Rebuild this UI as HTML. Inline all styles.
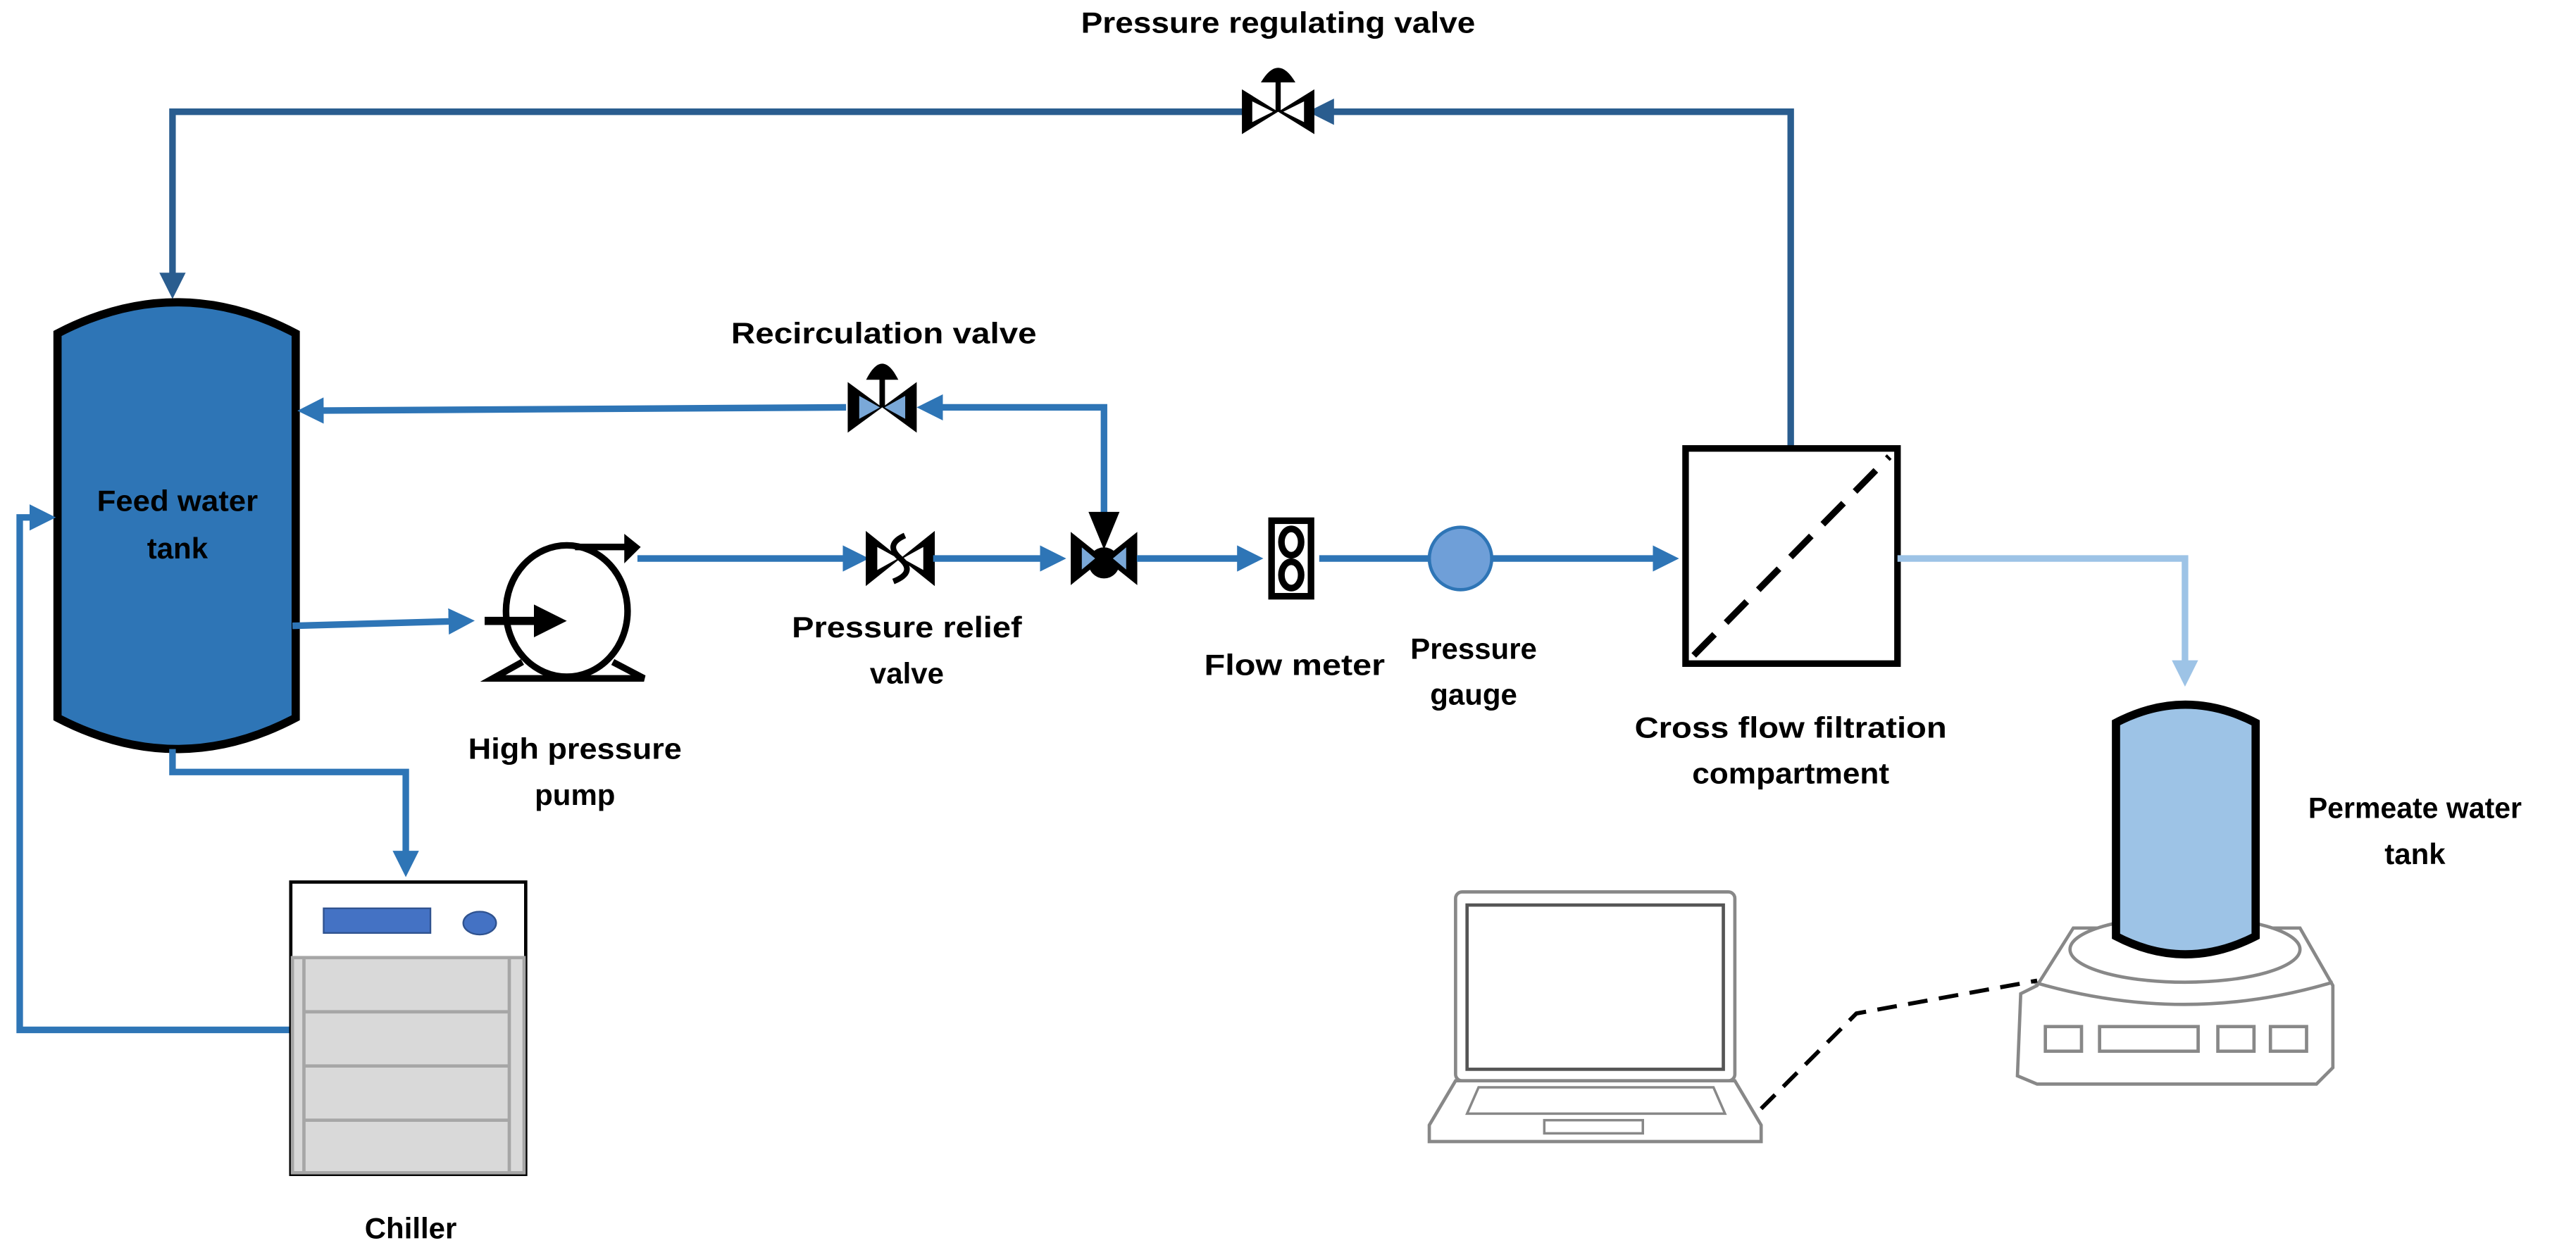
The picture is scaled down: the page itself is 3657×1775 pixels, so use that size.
<!DOCTYPE html>
<html><head><meta charset="utf-8"><style>html,body{margin:0;padding:0;background:#fff}svg{display:block}</style></head>
<body>
<svg width="3657" height="1775" viewBox="0 0 1568 761" xmlns="http://www.w3.org/2000/svg">
<defs>
<marker id="ad" markerWidth="4" markerHeight="4" refX="3" refY="2" orient="auto" markerUnits="strokeWidth"><path d="M0,0 L4,2 L0,4Z" fill="#2a5d8f"/></marker>
<marker id="ab" markerWidth="4" markerHeight="4" refX="3" refY="2" orient="auto" markerUnits="strokeWidth"><path d="M0,0 L4,2 L0,4Z" fill="#2e75b6"/></marker>
<marker id="al" markerWidth="4" markerHeight="4" refX="3" refY="2" orient="auto" markerUnits="strokeWidth"><path d="M0,0 L4,2 L0,4Z" fill="#9dc3e6"/></marker>
<marker id="ak" markerWidth="4" markerHeight="4" refX="3" refY="2" orient="auto" markerUnits="strokeWidth"><path d="M0,0 L4,2 L0,4Z" fill="#000"/></marker>
</defs>
<g font-family="Liberation Sans, sans-serif" font-weight="bold" font-size="18" fill="#000" text-anchor="middle">
<!-- top loop -->
<polyline points="1090,272 1090,68 800,68" fill="none" stroke="#2a5d8f" stroke-width="4" marker-end="url(#ad)"/>
<polyline points="760,68 105,68 105,178" fill="none" stroke="#2a5d8f" stroke-width="4" marker-end="url(#ad)"/>
<g transform="translate(778,68) scale(1.05)"><path d="M-21,-13 L21,13 L21,-13 L-21,13Z" fill="#000"/><path d="M-15,-6 L-3,0 L-15,6Z M15,-6 L3,0 L15,6Z" fill="#fff"/><rect x="-1.5" y="-18" width="3" height="18"/><path d="M-10,-17 Q0,-34 10,-17Z"/></g>
<text x="778" y="20" textLength="240" lengthAdjust="spacingAndGlyphs">Pressure regulating valve</text>

<!-- feed tank -->
<path d="M35,203 Q108,165 180,203 L180,437 Q108,475 35,437Z" fill="#2e75b6" stroke="#000" stroke-width="5"/>
<text x="108" y="311" textLength="98" lengthAdjust="spacingAndGlyphs">Feed water</text>
<text x="108" y="340">tank</text>

<!-- recirculation -->
<polyline points="672,320 672,248 562,248" fill="none" stroke="#2e75b6" stroke-width="4" marker-end="url(#ab)"/>
<polyline points="515,248 185,250" fill="none" stroke="#2e75b6" stroke-width="4" marker-end="url(#ab)"/>
<g transform="translate(537,248) scale(1.4)"><path d="M-15,-11 L15,11 L15,-11 L-15,11Z" fill="#000"/><path d="M-10,-5 L-1,0 L-10,5Z M10,-5 L1,0 L10,5Z" fill="#7aa8d8"/><rect x="-1.2" y="-14" width="2.4" height="14"/><path d="M-7,-12 Q0,-26 7,-12Z"/></g>
<text x="538" y="209" textLength="186" lengthAdjust="spacingAndGlyphs">Recirculation  valve</text>

<!-- pump line -->
<polyline points="178,381 285,378" fill="none" stroke="#2e75b6" stroke-width="4" marker-end="url(#ab)"/>
<ellipse cx="345" cy="372" rx="37" ry="40" fill="#fff" stroke="#000" stroke-width="4"/>
<path d="M318,403 L300,413 L392,413 L373,403" fill="none" stroke="#000" stroke-width="4"/>
<path d="M350,333 L385,333" stroke="#000" stroke-width="4"/>
<path d="M380,325 L390,333 L380,343Z" fill="#000"/>
<path d="M295,378 L340,378" stroke="#000" stroke-width="5" marker-end="url(#ak)"/>
<text x="350" y="462" textLength="130" lengthAdjust="spacingAndGlyphs">High pressure</text>
<text x="350" y="490">pump</text>

<polyline points="388,340 525,340" fill="none" stroke="#2e75b6" stroke-width="4" marker-end="url(#ab)"/>
<g transform="translate(548,340) scale(1.4)"><path d="M-15,-12 L15,12 L15,-12 L-15,12Z" fill="#000"/><path d="M-10,-5 L-1,0 L-10,5Z M10,-5 L1,0 L10,5Z" fill="#fff"/><path d="M2,-10 Q-7,-6 0,0 Q7,6 -3,10" fill="none" stroke="#000" stroke-width="2.5"/></g>
<text x="552" y="388" textLength="140" lengthAdjust="spacingAndGlyphs">Pressure relief</text>
<text x="552" y="416">valve</text>

<polyline points="568,340 645,340" fill="none" stroke="#2e75b6" stroke-width="4" marker-end="url(#ab)"/>
<g transform="translate(672,340) scale(1.35)"><path d="M-15,-12 L15,12 L15,-12 L-15,12Z" fill="#000"/><path d="M-7,-21 L7,-21 L0,-4Z" fill="#000"/><circle cx="0" cy="2" r="7" fill="#000"/><path d="M-10,-5 L-4,0 L-10,5Z M10,-5 L4,0 L10,5Z" fill="#7aa8d8"/></g>

<polyline points="692,340 765,340" fill="none" stroke="#2e75b6" stroke-width="4" marker-end="url(#ab)"/>
<rect x="772" y="315" width="28" height="50" fill="#000"/>
<rect x="776" y="319" width="20" height="42" fill="#fff"/>
<ellipse cx="786" cy="330" rx="6" ry="8" fill="none" stroke="#000" stroke-width="4"/>
<ellipse cx="786" cy="350" rx="6" ry="8" fill="none" stroke="#000" stroke-width="4"/>
<text x="788" y="411" textLength="110" lengthAdjust="spacingAndGlyphs">Flow meter</text>

<polyline points="803,340 870,340" fill="none" stroke="#2e75b6" stroke-width="4"/>
<circle cx="889" cy="340" r="19" fill="#6f9fd8" stroke="#2e75b6" stroke-width="2"/>
<polyline points="908,340 1018,340" fill="none" stroke="#2e75b6" stroke-width="4" marker-end="url(#ab)"/>
<text x="897" y="401">Pressure</text>
<text x="897" y="429">gauge</text>

<!-- filtration -->
<rect x="1026" y="273" width="129" height="131" fill="#fff" stroke="#000" stroke-width="4"/>
<line x1="1031" y1="399" x2="1150" y2="278" stroke="#000" stroke-width="4" stroke-dasharray="18,10"/>
<text x="1090" y="449" textLength="190" lengthAdjust="spacingAndGlyphs">Cross flow filtration</text>
<text x="1090" y="477" textLength="120" lengthAdjust="spacingAndGlyphs">compartment</text>

<!-- permeate -->
<polyline points="1155,340 1330,340 1330,414" fill="none" stroke="#9dc3e6" stroke-width="4" marker-end="url(#al)"/>
<!-- scale -->
<path d="M1262,565 L1240,600 L1230,605 L1228,655 L1240,660 L1410,660 L1420,650 L1420,600 L1400,565Z" fill="#fff" stroke="#888" stroke-width="2"/>
<ellipse cx="1330" cy="578" rx="70" ry="20" fill="#fff" stroke="#888" stroke-width="2"/>
<path d="M1238,598 Q1330,625 1420,598" fill="none" stroke="#888" stroke-width="2"/>
<rect x="1245" y="625" width="22" height="15" fill="none" stroke="#888" stroke-width="2"/>
<rect x="1278" y="625" width="60" height="15" fill="none" stroke="#888" stroke-width="2"/>
<rect x="1350" y="625" width="22" height="15" fill="none" stroke="#888" stroke-width="2"/>
<rect x="1382" y="625" width="22" height="15" fill="none" stroke="#888" stroke-width="2"/>
<path d="M1288,440 Q1330,418 1373,440 L1373,570 Q1330,592 1288,570Z" fill="#9dc3e6" stroke="#000" stroke-width="5"/>
<text x="1470" y="498" textLength="130" lengthAdjust="spacingAndGlyphs">Permeate water</text>
<text x="1470" y="526">tank</text>

<!-- laptop -->
<rect x="886" y="543" width="170" height="115" rx="4" fill="#fff" stroke="#888" stroke-width="2"/>
<rect x="893" y="551" width="156" height="100" fill="#fff" stroke="#555" stroke-width="2"/>
<path d="M886,658 L870,685 L870,695 L1072,695 L1072,685 L1056,658Z" fill="#fff" stroke="#888" stroke-width="2"/>
<path d="M900,662 L1043,662 L1050,678 L893,678Z" fill="none" stroke="#888" stroke-width="1.5"/>
<rect x="940" y="682" width="60" height="8" fill="none" stroke="#888" stroke-width="1.5"/>
<polyline points="1072,675 1130,617 1240,597" fill="none" stroke="#000" stroke-width="2.5" stroke-dasharray="12,7"/>

<!-- chiller lines -->
<polyline points="105,456 105,470 247,470 247,530" fill="none" stroke="#2e75b6" stroke-width="4" marker-end="url(#ab)"/>
<polyline points="177,627 12,627 12,315 30,315" fill="none" stroke="#2e75b6" stroke-width="4" marker-end="url(#ab)"/>
<!-- chiller -->
<rect x="177" y="537" width="143" height="178" fill="#fff" stroke="#000" stroke-width="2"/>
<rect x="197" y="553" width="65" height="15" fill="#4472c4" stroke="#2f528f" stroke-width="1"/>
<ellipse cx="292" cy="562" rx="10" ry="7" fill="#4472c4" stroke="#2f528f" stroke-width="1"/>
<rect x="178" y="583" width="141" height="131" fill="#d9d9d9" stroke="#a6a6a6" stroke-width="2"/>
<line x1="185" y1="583" x2="185" y2="714" stroke="#a6a6a6" stroke-width="2"/>
<line x1="310" y1="583" x2="310" y2="714" stroke="#a6a6a6" stroke-width="2"/>
<line x1="185" y1="616" x2="310" y2="616" stroke="#a6a6a6" stroke-width="2"/>
<line x1="185" y1="649" x2="310" y2="649" stroke="#a6a6a6" stroke-width="2"/>
<line x1="185" y1="682" x2="310" y2="682" stroke="#a6a6a6" stroke-width="2"/>
<text x="250" y="754">Chiller</text>
</g>
</svg>
</body></html>
